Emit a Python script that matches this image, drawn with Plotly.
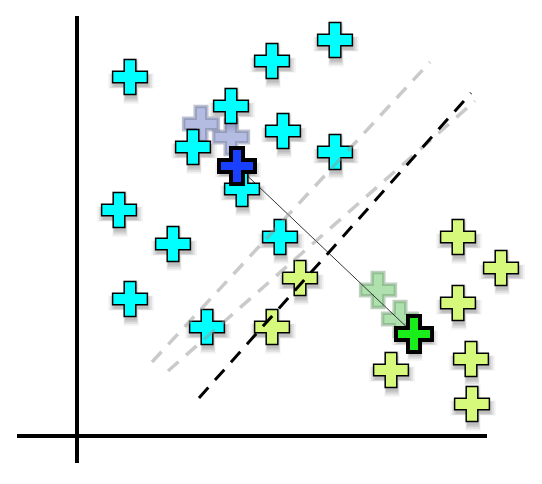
import plotly.graph_objects as go

# ---- data ----
cyan_x = [5.3, 19.5, 25.8, 15.4, 20.6, 11.6, 25.8, 16.5, 4.2, 9.6, 20.3, 5.3, 13.0]
cyan_y = [35.9, 37.5, 39.6, 33.0, 30.5, 28.9, 28.4, 24.7, 22.6, 19.2, 19.9, 13.7, 10.9]

lime_x = [38.1, 42.4, 22.3, 38.1, 19.5, 39.4, 31.4, 39.5]
lime_y = [19.9, 16.8, 15.8, 13.3, 10.9, 7.7, 6.6, 3.2]

faded_blue_x = [12.4, 15.4]
faded_blue_y = [31.2, 29.9]
blue_x = [16.0]
blue_y = [27.0]

faded_green_x = [30.1, 32.3]
faded_green_y = [14.6, 11.7]
green_x = [33.7]
green_y = [10.2]

boundary_black_x = [12.2, 39.4]
boundary_black_y = [3.8, 34.3]
boundary_gray1_x = [7.5, 35.3]
boundary_gray1_y = [7.4, 37.4]
boundary_gray2_x = [9.1, 39.8]
boundary_gray2_y = [6.5, 33.5]

x_axis_span = [-6.0, 41.0]
y_axis_span = [-2.7, 42.0]

fig = go.Figure()

SIZE = 29
SH_DX, SH_DY = 0.1, -0.4

# shadows
all_x = cyan_x + lime_x + blue_x + green_x
all_y = cyan_y + lime_y + blue_y + green_y
for s, a in [(38, 0.05), (35, 0.06), (32, 0.08), (29, 0.09)]:
    fig.add_trace(go.Scatter(
        x=[v + SH_DX for v in all_x], y=[v + SH_DY for v in all_y],
        mode="markers", hoverinfo="skip", showlegend=False,
        marker=dict(symbol="cross", size=s, color=f"rgba(0,0,0,{a})", line=dict(width=0))))

# faded (previous positions)
fig.add_trace(go.Scatter(
    x=faded_blue_x, y=faded_blue_y, mode="markers", showlegend=False,
    marker=dict(symbol="cross", size=SIZE, color="rgba(130,145,205,0.6)",
                line=dict(color="rgba(110,118,150,0.45)", width=3.5))))
fig.add_trace(go.Scatter(
    x=faded_green_x, y=faded_green_y, mode="markers", showlegend=False,
    marker=dict(symbol="cross", size=SIZE, color="rgba(120,205,120,0.6)",
                line=dict(color="rgba(110,150,110,0.45)", width=3.5))))

# connecting line between centroids
fig.add_trace(go.Scatter(
    x=blue_x + green_x, y=blue_y + green_y, mode="lines", showlegend=False,
    line=dict(color="#333333", width=1)))

# points
fig.add_trace(go.Scatter(
    x=cyan_x, y=cyan_y, mode="markers", showlegend=False,
    marker=dict(symbol="cross", size=SIZE, color="#00ffff",
                line=dict(color="black", width=1.5))))
fig.add_trace(go.Scatter(
    x=lime_x, y=lime_y, mode="markers", showlegend=False,
    marker=dict(symbol="cross", size=SIZE, color="#d6f97c",
                line=dict(color="black", width=1.5))))

# dashed boundaries
for bx, by, col, w in [(boundary_gray1_x, boundary_gray1_y, "rgba(150,150,150,0.5)", 3.5),
                       (boundary_gray2_x, boundary_gray2_y, "rgba(150,150,150,0.5)", 3.5),
                       (boundary_black_x, boundary_black_y, "black", 3)]:
    fig.add_trace(go.Scatter(
        x=bx, y=by, mode="lines", showlegend=False,
        line=dict(color=col, width=w, dash="14px,10px")))

# centroids
fig.add_trace(go.Scatter(
    x=blue_x, y=blue_y, mode="markers", showlegend=False,
    marker=dict(symbol="cross", size=30, color="#1a40ff",
                line=dict(color="black", width=4))))
fig.add_trace(go.Scatter(
    x=green_x, y=green_y, mode="markers", showlegend=False,
    marker=dict(symbol="cross", size=30, color="#1aee1a",
                line=dict(color="black", width=4))))

# axes drawn as lines
fig.add_shape(type="line", x0=x_axis_span[0], x1=x_axis_span[1], y0=0, y1=0,
              line=dict(color="black", width=4), layer="below")
fig.add_shape(type="line", x0=0, x1=0, y0=y_axis_span[0], y1=y_axis_span[1],
              line=dict(color="black", width=4), layer="below")

fig.update_layout(
    width=542, height=484, margin=dict(l=0, r=0, t=0, b=0),
    paper_bgcolor="white", plot_bgcolor="white",
    xaxis=dict(range=[-7.7, 46.5], visible=False, fixedrange=True),
    yaxis=dict(range=[-4.8, 43.6], visible=False, fixedrange=True),
)

fig.write_html("out.html")
